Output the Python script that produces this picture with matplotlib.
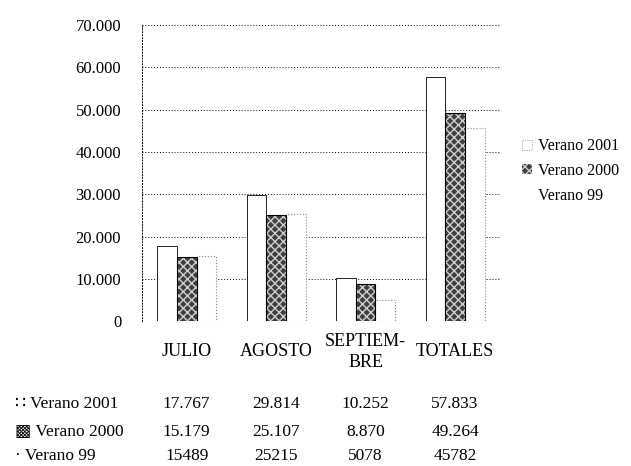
import matplotlib
matplotlib.use("Agg")
import matplotlib.pyplot as plt
import matplotlib.transforms as mtransforms
from matplotlib.patches import Patch
import numpy as np

categories = ["JULIO", "AGOSTO", "SEPTIEM-\nBRE", "TOTALES"]
series_names = ["Verano 2001", "Verano 2000", "Verano 99"]
v2001 = [17767, 29814, 10252, 57833]
v2000 = [15179, 25107, 8870, 49264]
v99 = [15489, 25215, 5078, 45782]
table_2001 = ["17.767", "29.814", "10.252", "57.833"]
table_2000 = ["15.179", "25.107", "8.870", "49.264"]
table_99 = ["15489", "25215", "5078", "45782"]
yticks = [0, 10000, 20000, 30000, 40000, 50000, 60000, 70000]
ytick_labels = ["0", "10.000", "20.000", "30.000", "40.000", "50.000", "60.000", "70.000"]

plt.rcParams['font.family'] = ['Liberation Serif', 'DejaVu Serif', 'DejaVu Sans']

fig = plt.figure(figsize=(6.31, 4.66), dpi=100)
ax = fig.add_axes([0.225, 0.311, 0.567, 0.635])

x = np.arange(len(categories))
w = 0.22
ax.bar(x - w, v2001, w, facecolor='white', edgecolor='#222222', linewidth=0.7, zorder=3)
ax.bar(x, v2000, w, facecolor='#3f3f3f', edgecolor='#d0d0d0', hatch='xxxx', linewidth=0, zorder=3)
ax.bar(x, v2000, w, facecolor='none', edgecolor='black', linewidth=0.8, zorder=4)
ax.bar(x + w, v99, w, facecolor='white', edgecolor='#888888', linestyle=':', linewidth=0.8, zorder=3)

ax.set_xlim(-0.5, len(categories) - 0.5)
ax.set_ylim(0, 70000)
ax.set_yticks(yticks)
ax.set_yticklabels(ytick_labels, fontsize=12)
ax.tick_params(axis='y', length=0, pad=15)
ax.set_xticks([])
ax.yaxis.grid(True, linestyle=(0, (1, 2)), color='black', linewidth=0.7, zorder=0)
ax.set_axisbelow(True)
for s in ['top', 'right', 'bottom']:
    ax.spines[s].set_visible(False)
ax.spines['left'].set_linestyle((0, (1, 2)))
ax.spines['left'].set_linewidth(0.7)

# category header and table
trans = mtransforms.blended_transform_factory(ax.transData, fig.transFigure)
for i, c in enumerate(categories):
    ax.text(x[i], 1 - 352 / 466, c, transform=trans, ha='center', va='center',
            fontsize=13, linespacing=1.25)

rows = [("∷ Verano 2001", table_2001), ("▩ Verano 2000", table_2000), ("· Verano 99", table_99)]
row_y = [404, 432, 456]
for (label, vals), yy in zip(rows, row_y):
    fig.text(15 / 631, 1 - yy / 466, label, ha='left', va='center', fontsize=12.5)
    for i, v in enumerate(vals):
        ax.text(x[i], 1 - yy / 466, v, transform=trans, ha='center', va='center', fontsize=12.5)

handles = [Patch(facecolor='white', edgecolor='#888888', linestyle=':', linewidth=0.6),
           Patch(facecolor='#3f3f3f', edgecolor='#d0d0d0', hatch='xxxx', linewidth=0),
           Patch(facecolor='white', edgecolor='white', linewidth=0)]
fig.legend(handles, series_names, loc='center left', bbox_to_anchor=(0.805, 1 - 171 / 466),
           frameon=False, fontsize=11.5, handlelength=0.6, handleheight=0.6,
           handletextpad=0.4, labelspacing=0.55)

fig.savefig("out.png", dpi=100)
